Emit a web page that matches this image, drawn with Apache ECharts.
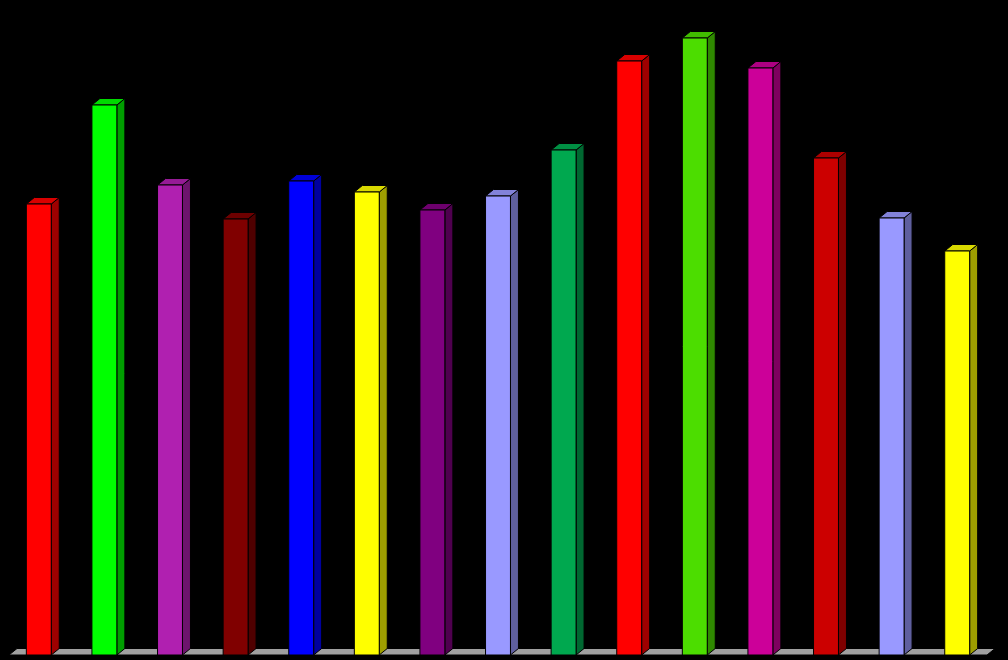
<!DOCTYPE html>
<html>
<head>
<meta charset="utf-8">
<script src="https://cdn.jsdelivr.net/npm/echarts@6/dist/echarts.min.js"></script>
<style>
html,body{margin:0;padding:0;background:#000;}
#chart{width:1008px;height:660px;}
</style>
</head>
<body>
<div id="chart"></div>
<script>
var categories = ['1','2','3','4','5','6','7','8','9','10','11','12','13','14','15'];
var values = [451, 550, 470, 436, 474, 463, 445, 459, 505, 594, 617, 587, 497, 437, 404];
var barColors = ['#FF0000','#00FF00','#B020B0','#800000','#0000FF','#FFFF00','#800080','#9999FF','#00A84F','#FF0000','#4CDD00','#CC0099','#CC0000','#9999FF','#FFFF00'];

function shade(hex, f) {
  var r = parseInt(hex.substr(1,2),16), g = parseInt(hex.substr(3,2),16), b = parseInt(hex.substr(5,2),16);
  function c(v){ v = Math.round(v*f); return ('0'+Math.min(255,v).toString(16)).slice(-2); }
  return '#' + c(r) + c(g) + c(b);
}

var DX = 8, DY = -6.5;

var chart = echarts.init(document.getElementById('chart'));
chart.setOption({
  backgroundColor: '#000',
  animation: false,
  grid: { left: 6, right: 18, top: 0, bottom: 5 },
  xAxis: { type: 'category', data: categories, show: false },
  yAxis: { type: 'value', min: 0, max: 655, show: false },
  series: [{
    type: 'custom',
    data: values.map(function (v, i) { return [i, v]; }),
    encode: { x: 0, y: 1 },
    renderItem: function (params, api) {
      var i = api.value(0);
      var top = api.coord([i, api.value(1)]);
      var base = api.coord([i, 0]);
      var band = api.size([1, 0])[0];
      var w = band * 0.38;
      var x0 = top[0] - w / 2, x1 = top[0] + w / 2;
      var yt = top[1], yb = base[1];
      var col = barColors[params.dataIndex];
      var stroke = { stroke: '#000', lineWidth: 1 };
      var children = [];
      if (params.dataIndex === 0) {
        var cs = params.coordSys;
        var fl = cs.x + 3, fr = cs.x + cs.width - 3;
        children.push({
          type: 'polygon',
          shape: { points: [[fl, yb], [fr, yb], [fr + DX, yb + DY], [fl + DX, yb + DY]] },
          style: { fill: '#A0A0A0', stroke: '#000', lineWidth: 1 },
          z2: 0
        });
      }
      children.push({
        type: 'polygon',
        shape: { points: [[x1, yt], [x1 + DX, yt + DY], [x1 + DX, yb + DY], [x1, yb]] },
        style: Object.assign({ fill: shade(col, 0.62) }, stroke),
        z2: 1
      });
      children.push({
        type: 'polygon',
        shape: { points: [[x0, yt], [x0 + DX, yt + DY], [x1 + DX, yt + DY], [x1, yt]] },
        style: Object.assign({ fill: shade(col, 0.85) }, stroke),
        z2: 1
      });
      children.push({
        type: 'rect',
        shape: { x: x0, y: yt, width: w, height: yb - yt },
        style: Object.assign({ fill: col }, stroke),
        z2: 2
      });
      return { type: 'group', children: children };
    }
  }]
});
</script>
</body>
</html>
